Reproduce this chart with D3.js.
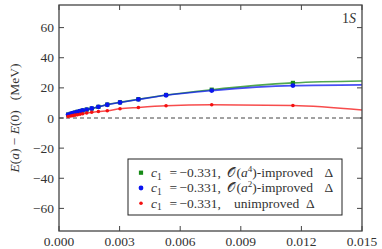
<!doctype html>
<html>
<head>
<meta charset="utf-8">
<script src="https://d3js.org/d3.v7.min.js"></script>
<style>
  body { margin: 0; background: #fff; }
</style>
</head>
<body>
<div id="chart"></div>
<script>
// lattice spacings (x) and energy shifts (MeV)
const spacing = [0.00045, 0.00058, 0.00068, 0.00079, 0.00091, 0.00104, 0.00117, 0.00137,
                 0.00162, 0.00195, 0.00239, 0.00302, 0.00393, 0.0053, 0.00756, 0.01158];
const improved4 = [2.3, 2.8, 3.2, 3.6, 4.1, 4.5, 5.0, 5.6, 6.3, 7.4, 8.9, 10.4, 12.5, 15.3, 18.8, 23.3];
const improved2 = [2.3, 2.8, 3.2, 3.6, 4.1, 4.5, 5.0, 5.6, 6.3, 7.4, 8.8, 10.3, 12.3, 15.1, 18.2, 21.5];
const unimproved = [1.0, 1.3, 1.6, 1.9, 2.2, 2.5, 2.8, 3.3, 3.8, 4.3, 4.8, 6.1, 7.0, 8.1, 8.75, 8.3];
// fit curves continue to the edge of the plot
const fitEnd = 0.015;
const fitEndValues = { improved4: 24.6, improved2: 22.0, unimproved: 5.3 };

const xTicks = [0.000, 0.003, 0.006, 0.009, 0.012, 0.015];
const yTicks = [-60, -40, -20, 0, 20, 40, 60];

const series = [
  { key: "improved4", values: improved4, color: "#168a16", marker: "square", order: "4" },
  { key: "improved2", values: improved2, color: "#0a14f0", marker: "dot", order: "2" },
  { key: "unimproved", values: unimproved, color: "#f41010", marker: "circle", order: null }
];

const W = 382, H = 249;
const m = { left: 59, right: 20, top: 5, bottom: 18 };
const FONT = "'Liberation Serif', serif";
const textColor = "#333";

const svg = d3.select("#chart").append("svg").attr("width", W).attr("height", H)
  .attr("font-family", FONT);

const x = d3.scaleLinear().domain([0, 0.015]).range([m.left, W - m.right]);
const y = d3.scaleLinear().domain([-75, 75]).range([H - m.bottom, m.top]);

// zero line
svg.append("line")
  .attr("x1", x(0)).attr("x2", x(0.015))
  .attr("y1", y(0)).attr("y2", y(0))
  .attr("stroke", "#444").attr("stroke-width", 1).attr("stroke-dasharray", "4,3");

const line = d3.line().x(d => x(d[0])).y(d => y(d[1])).curve(d3.curveMonotoneX);

series.forEach(s => {
  const pts = spacing.map((a, i) => [a, s.values[i]]);
  pts.push([fitEnd, fitEndValues[s.key]]);
  svg.append("path").datum(pts)
    .attr("d", line).attr("fill", "none")
    .attr("stroke", s.color).attr("stroke-width", 1.6).attr("stroke-opacity", 0.75);
});

function drawMarker(g, type, cx, cy, color) {
  if (type === "square") {
    g.append("rect").attr("x", cx - 2.1).attr("y", cy - 2.1).attr("width", 4.2).attr("height", 4.2).attr("fill", color);
  } else if (type === "dot") {
    g.append("circle").attr("cx", cx).attr("cy", cy).attr("r", 2.4).attr("fill", color);
  } else {
    g.append("circle").attr("cx", cx).attr("cy", cy).attr("r", 1.8).attr("fill", color);
  }
}

series.forEach(s => {
  const g = svg.append("g");
  spacing.forEach((a, i) => drawMarker(g, s.marker, x(a), y(s.values[i]), s.color));
});

// axes (ticks pointing inward on all four sides)
const axisColor = "#444";
const frame = svg.append("g");
frame.append("rect")
  .attr("x", x(0)).attr("y", y(75))
  .attr("width", x(0.015) - x(0)).attr("height", y(-75) - y(75))
  .attr("fill", "none").attr("stroke", axisColor).attr("stroke-width", 1.3);

xTicks.forEach(t => {
  frame.append("line").attr("x1", x(t)).attr("x2", x(t)).attr("y1", y(-75)).attr("y2", y(-75) - 5).attr("stroke", axisColor);
  frame.append("line").attr("x1", x(t)).attr("x2", x(t)).attr("y1", y(75)).attr("y2", y(75) + 5).attr("stroke", axisColor);
  svg.append("text").attr("x", x(t)).attr("y", H - 3).attr("fill", textColor)
    .attr("text-anchor", "middle").attr("font-size", 13.5).text(t.toFixed(3));
});

yTicks.forEach(t => {
  frame.append("line").attr("x1", x(0)).attr("x2", x(0) + 5).attr("y1", y(t)).attr("y2", y(t)).attr("stroke", axisColor);
  frame.append("line").attr("x1", x(0.015)).attr("x2", x(0.015) - 5).attr("y1", y(t)).attr("y2", y(t)).attr("stroke", axisColor);
  svg.append("text").attr("x", x(0) - 5).attr("y", y(t) + 4.5).attr("fill", textColor)
    .attr("text-anchor", "end").attr("font-size", 13.5).text(t < 0 ? "\u2212" + Math.abs(t) : t);
});

// y axis label
const yl = svg.append("text")
  .attr("transform", `translate(19,${y(0)}) rotate(-90)`).attr("fill", textColor)
  .attr("text-anchor", "middle").attr("font-size", 13.5);
yl.append("tspan").attr("font-style", "italic").text("E");
yl.append("tspan").text("(");
yl.append("tspan").attr("font-style", "italic").text("a");
yl.append("tspan").text(")\u00a0\u2212\u00a0");
yl.append("tspan").attr("font-style", "italic").text("E");
yl.append("tspan").text("(0)\u00a0\u00a0\u00a0(MeV)");

// state label
const st = svg.append("text").attr("x", 356).attr("y", 23).attr("fill", textColor)
  .attr("text-anchor", "end").attr("font-size", 14);
st.append("tspan").text("1");
st.append("tspan").attr("font-style", "italic").text("S");

// legend
const lg = svg.append("g");
lg.append("rect").attr("x", 128).attr("y", 159).attr("width", 214).attr("height", 56)
  .attr("fill", "#fff").attr("stroke", "#222").attr("stroke-width", 1);

series.forEach((s, i) => {
  const ry = 172.7 + i * 15.3;
  drawMarker(lg, s.marker, 141, ry, s.color);
  const t = lg.append("text").attr("y", ry + 4.3).attr("font-size", 13.5).attr("fill", textColor);
  t.append("tspan").attr("x", 151).attr("font-style", "italic").text("c");
  t.append("tspan").attr("font-size", 9.5).attr("dy", 2.5).text("1");
  t.append("tspan").attr("x", 169.5).attr("dy", -2.5).text("=");
  t.append("tspan").attr("x", 179.5).text("\u22120.331,");
  if (!s.order) {
    t.append("tspan").attr("x", 234).text("unimproved");
    t.append("tspan").attr("x", 306).text("\u0394");
  } else {
    t.append("tspan").attr("x", 227).attr("font-family", "'DejaVu Serif', serif").attr("font-size", 13).text("\ud835\udcaa");
    t.append("tspan").attr("x", 236.5).text("(");
    t.append("tspan").attr("font-style", "italic").text("a");
    t.append("tspan").attr("font-size", 9).attr("dy", -5).text(s.order);
    t.append("tspan").attr("dy", 5).text(")-improved");
    t.append("tspan").attr("x", 324.5).text("\u0394");
  }
});
</script>
</body>
</html>
